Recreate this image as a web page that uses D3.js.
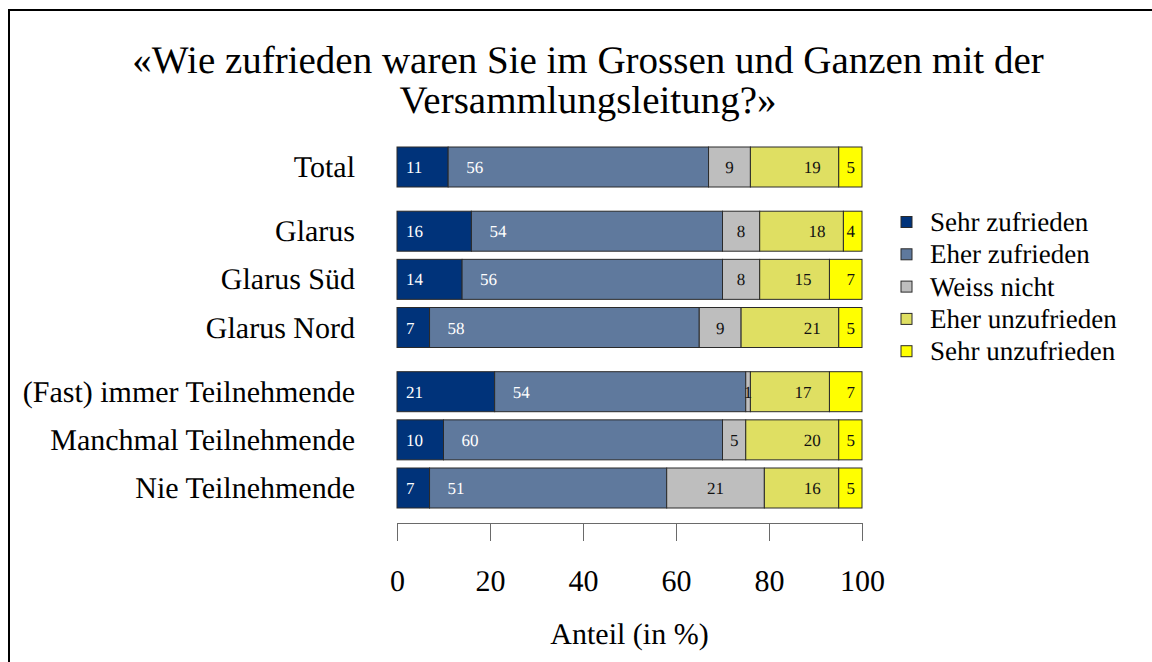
<!DOCTYPE html>
<html>
<head>
<meta charset="utf-8">
<script src="https://cdn.jsdelivr.net/npm/d3@7"></script>
<style>
  html, body { margin: 0; padding: 0; background: #fff; }
  svg { display: block; }
  svg text { font-family: "Liberation Serif", "Times New Roman", serif; text-rendering: geometricPrecision; }
</style>
</head>
<body>
<svg id="chart" width="1152" height="662"></svg>
<script>
// ---- Data ----
const titleLines = ["«Wie zufrieden waren Sie im Grossen und Ganzen mit der", "Versammlungsleitung?»"];
const categories = ["Total", "Glarus", "Glarus Süd", "Glarus Nord", "(Fast) immer Teilnehmende", "Manchmal Teilnehmende", "Nie Teilnehmende"];
const groups = [0, 1, 1, 1, 2, 2, 2];
const seriesNames = ["Sehr zufrieden", "Eher zufrieden", "Weiss nicht", "Eher unzufrieden", "Sehr unzufrieden"];
const sehrZufrieden   = [11, 16, 14, 7, 21, 10, 7];
const eherZufrieden   = [56, 54, 56, 58, 54, 60, 51];
const weissNicht      = [9, 8, 8, 9, 1, 5, 21];
const eherUnzufrieden = [19, 18, 15, 21, 17, 20, 16];
const sehrUnzufrieden = [5, 4, 7, 5, 7, 5, 5];
const xTicks = [0, 20, 40, 60, 80, 100];
const xTitle = "Anteil (in %)";

const colors = ["#00337a", "#5f799d", "#bebebe", "#dfdf62", "#ffff00"];
const labelColors = ["#ffffff", "#ffffff", "#111111", "#111111", "#111111"];
const labelAnchor = ["start", "start", "middle", "end", "end"];
const labelOffset = [9, 18, 0, -18, -7];

const seriesValues = [sehrZufrieden, eherZufrieden, weissNicht, eherUnzufrieden, sehrUnzufrieden];
const table = categories.map((c, i) => {
  const row = { category: c, group: groups[i], slot: i + groups[i] / 3 };
  seriesNames.forEach((s, k) => row[s] = seriesValues[k][i]);
  return row;
});
const stacked = d3.stack().keys(seriesNames)(table);

// ---- Layout ----
const FONT = "Liberation Serif, Times New Roman, serif";
const svg = d3.select("#chart");
const barH = 40;
const x = d3.scaleLinear().domain([0, 100]).range([397, 862]);
const y = d3.scaleLinear().domain([0, 6 + 2 / 3]).range([147, 468]);

// frame
svg.append("rect").attr("x", 9).attr("y", 10).attr("width", 1170).attr("height", 700)
  .attr("fill", "none").attr("stroke", "#000").attr("stroke-width", 2);

// title
svg.append("g").selectAll("text").data(titleLines).join("text")
  .attr("x", 588).attr("y", (d, i) => 73 + i * 40)
  .attr("text-anchor", "middle").attr("font-family", FONT).attr("font-size", 39).attr("fill", "#000")
  .text(d => d);

// bars
const layers = svg.append("g").selectAll("g").data(stacked).join("g")
  .attr("fill", (d, k) => colors[k]);
layers.selectAll("rect").data(d => d).join("rect")
  .attr("x", d => x(d[0]))
  .attr("y", d => y(d.data.slot))
  .attr("width", d => x(d[1]) - x(d[0]))
  .attr("height", barH)
  .attr("stroke", "#2a2a2a").attr("stroke-width", 1);

// value labels
const lbl = svg.append("g").selectAll("g").data(stacked).join("g")
  .attr("font-size", 17).attr("font-family", FONT)
  .attr("fill", (d, k) => labelColors[k])
  .attr("text-anchor", (d, k) => labelAnchor[k]);
lbl.each(function(layer, k) {
  d3.select(this).selectAll("text").data(layer).join("text")
    .attr("x", d => {
      if (labelAnchor[k] === "start") return x(d[0]) + labelOffset[k];
      if (labelAnchor[k] === "end") return x(d[1]) + labelOffset[k];
      return (x(d[0]) + x(d[1])) / 2;
    })
    .attr("y", d => y(d.data.slot) + barH / 2 + 6)
    .text(d => d[1] - d[0]);
});

// category labels
svg.append("g").selectAll("text").data(table).join("text")
  .attr("x", 355).attr("y", d => y(d.slot) + barH / 2 + 10)
  .attr("text-anchor", "end").attr("font-family", FONT).attr("font-size", 30).attr("fill", "#000")
  .text(d => d.category);

// x axis
const axis = svg.append("g").attr("transform", "translate(0,523)")
  .call(d3.axisBottom(x).tickValues(xTicks).tickSize(18).tickSizeOuter(0));
axis.select(".domain").attr("stroke", "#6a6a6a");
axis.selectAll(".tick line").attr("stroke", "#6a6a6a");
axis.selectAll(".tick text")
  .attr("y", 68).attr("dy", 0)
  .attr("font-family", FONT)
  .attr("font-size", 30).attr("fill", "#000");

svg.append("text").attr("x", (x(0) + x(100)) / 2).attr("y", 644)
  .attr("text-anchor", "middle").attr("font-family", FONT).attr("font-size", 30).attr("fill", "#000")
  .text(xTitle);

// legend
const leg = svg.append("g").selectAll("g").data(seriesNames).join("g")
  .attr("transform", (d, i) => `translate(901,${222 + i * 32.3})`);
leg.append("rect").attr("x", 0).attr("y", -5.5).attr("width", 11).attr("height", 11)
  .attr("fill", (d, i) => colors[i]).attr("stroke", "#2a2a2a").attr("stroke-width", 1);
leg.append("text").attr("x", 29).attr("y", 9)
  .attr("font-family", FONT).attr("font-size", 27).attr("fill", "#000").text(d => d);
</script>
</body>
</html>
